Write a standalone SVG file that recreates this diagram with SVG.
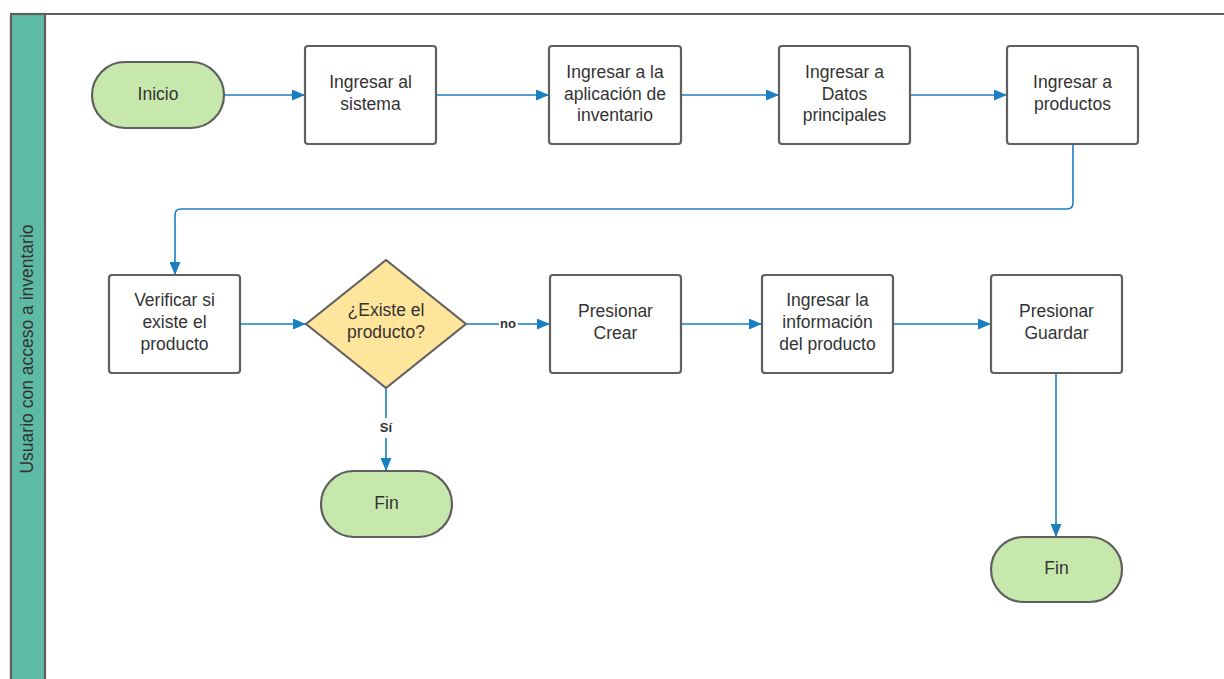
<svg xmlns="http://www.w3.org/2000/svg" width="1224" height="679" viewBox="0 0 1224 679">
<defs>
<style>
.box{fill:#fff;stroke:#5f5f5f;stroke-width:2.2}
.term{fill:#c7e8ac;stroke:#5f5f5f;stroke-width:2.2}
.dec{fill:#ffe49c;stroke:#5f5f5f;stroke-width:2.2}
.t{font-family:"Liberation Sans",Arial,sans-serif;font-size:17.5px;fill:#333;text-anchor:middle}
.lbl{font-family:"Liberation Sans",Arial,sans-serif;font-size:13px;font-weight:bold;fill:#333;text-anchor:middle}
.c{fill:none;stroke:#1a7fc2;stroke-width:1.6}
</style>
<marker id="ah" viewBox="0 0 13 11" refX="13" refY="5.5" markerWidth="13" markerHeight="11" markerUnits="userSpaceOnUse" orient="auto">
<path d="M0,0 L13,5.5 L0,11 Z" fill="#1a7fc2"/>
</marker>
</defs>
<g id="lane">
<rect x="11" y="14" width="1240" height="700" rx="4" fill="#fff" stroke="#5f5f5f" stroke-width="2.2"/>
<rect x="11" y="14" width="34" height="700" fill="#5dbaa4" stroke="#5f5f5f" stroke-width="2.2"/>
<text class="t" transform="translate(33,349) rotate(-90)">Usuario con acceso a inventario</text>
</g>
<g id="connectors">
<path class="c" d="M224,95 H305" marker-end="url(#ah)"/>
<path class="c" d="M436,95 H549" marker-end="url(#ah)"/>
<path class="c" d="M681,95 H779" marker-end="url(#ah)"/>
<path class="c" d="M910,95 H1007" marker-end="url(#ah)"/>
<path class="c" d="M1073,144 V203 Q1073,209 1067,209 H181 Q175,209 175,215 V275" marker-end="url(#ah)"/>
<path class="c" d="M240,324 H306" marker-end="url(#ah)"/>
<path class="c" d="M466,324 H499 M518,324 H550" marker-end="url(#ah)"/>
<path class="c" d="M681,324 H762" marker-end="url(#ah)"/>
<path class="c" d="M893,324 H991" marker-end="url(#ah)"/>
<path class="c" d="M386,388 V418 M386,438 V471" marker-end="url(#ah)"/>
<path class="c" d="M1056,373 V537" marker-end="url(#ah)"/>
<text class="lbl" x="508" y="328">no</text>
<text class="lbl" x="386" y="432">Sí</text>
</g>
<g id="inicio">
<rect class="term" x="92" y="62" width="132" height="66" rx="33"/>
<text class="t" x="158" y="100">Inicio</text>
</g>
<g id="ingresar-sistema">
<rect class="box" x="305" y="46" width="131" height="98" rx="3"/>
<text class="t" x="370.5" y="88">Ingresar al</text>
<text class="t" x="370.5" y="109.5">sistema</text>
</g>
<g id="ingresar-app">
<rect class="box" x="549" y="46" width="132" height="98" rx="3"/>
<text class="t" x="615" y="78">Ingresar a la</text>
<text class="t" x="615" y="99.5">aplicación de</text>
<text class="t" x="615" y="121">inventario</text>
</g>
<g id="ingresar-datos">
<rect class="box" x="779" y="46" width="131" height="98" rx="3"/>
<text class="t" x="844.5" y="78">Ingresar a</text>
<text class="t" x="844.5" y="99.5">Datos</text>
<text class="t" x="844.5" y="121">principales</text>
</g>
<g id="ingresar-productos">
<rect class="box" x="1007" y="46" width="131" height="98" rx="3"/>
<text class="t" x="1072.5" y="88">Ingresar a</text>
<text class="t" x="1072.5" y="109.5">productos</text>
</g>
<g id="verificar">
<rect class="box" x="109" y="275" width="131" height="98" rx="3"/>
<text class="t" x="174.5" y="306">Verificar si</text>
<text class="t" x="174.5" y="328">existe el</text>
<text class="t" x="174.5" y="350">producto</text>
</g>
<g id="existe">
<path class="dec" d="M386,260 L466,324 L386,388 L306,324 Z" stroke-linejoin="round"/>
<text class="t" x="386" y="316">¿Existe el</text>
<text class="t" x="386" y="338">producto?</text>
</g>
<g id="presionar-crear">
<rect class="box" x="550" y="275" width="131" height="98" rx="3"/>
<text class="t" x="615.5" y="317">Presionar</text>
<text class="t" x="615.5" y="338.5">Crear</text>
</g>
<g id="ingresar-info">
<rect class="box" x="762" y="275" width="131" height="98" rx="3"/>
<text class="t" x="827.5" y="306">Ingresar la</text>
<text class="t" x="827.5" y="328">información</text>
<text class="t" x="827.5" y="350">del producto</text>
</g>
<g id="presionar-guardar">
<rect class="box" x="991" y="275" width="131" height="98" rx="3"/>
<text class="t" x="1056.5" y="317">Presionar</text>
<text class="t" x="1056.5" y="338.5">Guardar</text>
</g>
<g id="fin1">
<rect class="term" x="321" y="471" width="131" height="66" rx="33"/>
<text class="t" x="386.5" y="509">Fin</text>
</g>
<g id="fin2">
<rect class="term" x="991" y="537" width="131" height="65" rx="32.5"/>
<text class="t" x="1056.5" y="574">Fin</text>
</g>
</svg>
